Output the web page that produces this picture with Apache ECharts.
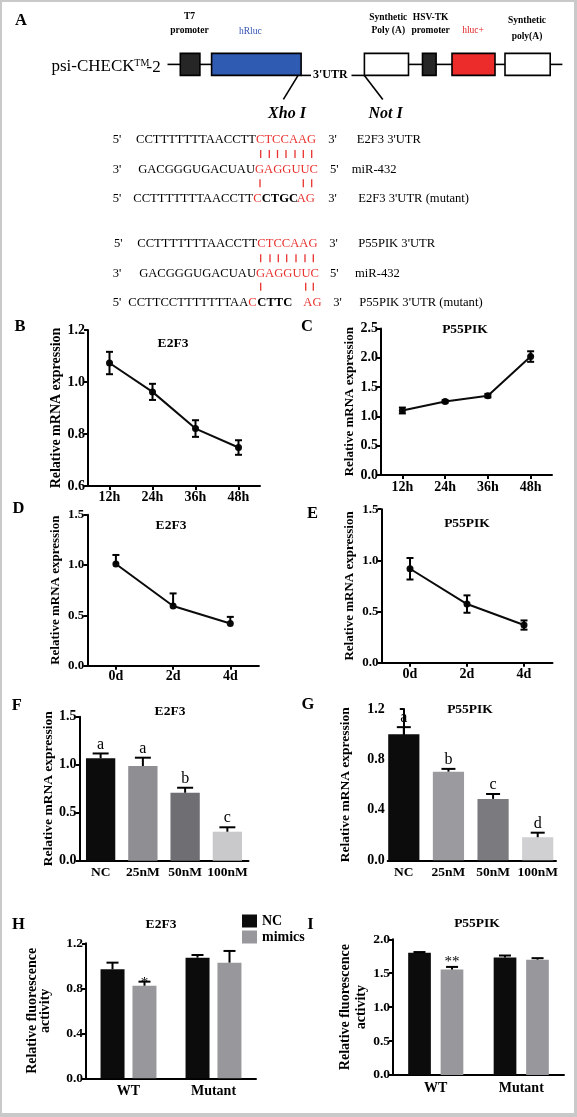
<!DOCTYPE html>
<html><head><meta charset="utf-8">
<script src="https://cdn.jsdelivr.net/npm/echarts@6/dist/echarts.min.js"></script>
<style>html,body{margin:0;padding:0;background:#fff;} #c{width:577px;height:1117px;}</style>
</head><body><div id="c"></div><script>
// ---------------- data ----------------
const timeCats = ['12h','24h','36h','48h'];
const dayCats = ['0d','2d','4d'];
const doseCats = ['NC','25nM','50nM','100nM'];
const reporterCats = ['WT','Mutant'];
const groupNames = ['NC','mimics'];

const bTicks = [0.6,0.8,1.0,1.2];
const bE2F3 = [1.073,0.962,0.821,0.748];
const bE2F3Err = [0.043,0.031,0.032,0.028];

const cTicks = [0,0.5,1.0,1.5,2.0,2.5];
const cP55 = [1.10,1.255,1.353,2.02];
const cP55Err = [0.05,0.02,0.03,0.09];

const dTicks = [0,0.5,1.0,1.5];
const dE2F3 = [1.01,0.593,0.42];
const dE2F3Err = [0.09,0.125,0.065];

const eTicks = [0,0.5,1.0,1.5];
const eP55 = [0.918,0.573,0.368];
const eP55Err = [0.105,0.085,0.045];

const fTicks = [0,0.5,1.0,1.5];
const fE2F3 = [1.067,0.986,0.708,0.302];
const fE2F3Err = [0.05,0.087,0.052,0.046];
const fLetters = ['a','a','b','c'];

const gTicks = [0,0.4,0.8,1.2];
const gP55 = [1.0,0.703,0.487,0.183];
const gP55Err = [0.056,0.022,0.039,0.036];
const gLetters = ['a','b','c','d'];

const hTicks = [0,0.4,0.8,1.2];
const hNC = [0.969,1.072];
const hNCErr = [0.059,0.024];
const hMimics = [0.823,1.028];
const hMimicsErr = [0.036,0.104];
const hMarks = ['*',''];

const iTicks = [0,0.5,1.0,1.5,2.0];
const iNC = [1.80,1.731];
const iNCErr = [0.012,0.03];
const iMimics = [1.554,1.70];
const iMimicsErr = [0.039,0.022];
const iMarks = ['**',''];

// sequences (panel A)
const seqRows = [
  {p5:"5'", black:'CCTTTTTTTAACCTT', parts:[['CTCCAAG','r']], p3:"3'", gene:"E2F3 3'UTR"},
  {p5:"3'", black:'GACGGGUGACUAU', parts:[['GAGGUUC','r']], p3:"5'", gene:'miR-432'},
  {p5:"5'", black:'CCTTTTTTTAACCTT', parts:[['C','r'],['CTGC','b'],['AG','r']], p3:"3'", gene:"E2F3 3'UTR (mutant)"},
  {p5:"5'", black:'CCTTTTTTTAACCTT', parts:[['CTCCAAG','r']], p3:"3'", gene:"P55PIK 3'UTR"},
  {p5:"3'", black:'GACGGGUGACUAU', parts:[['GAGGUUC','r']], p3:"5'", gene:'miR-432'},
  {p5:"5'", black:'CCTTCCTTTTTTTAA', parts:[['C','r'],['CTTC','b'],['AG','r']], p3:"3'", gene:"P55PIK 3'UTR (mutant)"}
];

// ---------------- layout / style ----------------
const SERIF = '"Liberation Serif","Times New Roman",serif';
const BLACK = '#0b0b0b';
const fColors = ['#0c0c0c','#8e8e93','#6e6e73','#c9c9cb'];
const gColors = ['#0c0c0c','#9a9a9f','#7a7a7f','#d0d0d2'];
const groupColors = ['#0c0c0c','#98989c'];

const seqLayout = [
  {y:139.3, x5:112.7, xs:[256], x3:328.3, xg:356.7},
  {y:169.3, x5:112.7, xs:[255], x3:330, xg:351.7},
  {y:199,   x5:112.7, xs:[253.3,261.7,296.7], x3:328.3, xg:358.3},
  {y:243.3, x5:114,   xs:[257.3], x3:329.3, xg:358.3},
  {y:274,   x5:112.7, xs:[256], x3:330, xg:355},
  {y:302.3, x5:112.7, xs:[248.3,257.3,303.3], x3:333.3, xg:359.3}
];
const pairBars = [
  {y:154,   xs:[260.7,269.3,277.5,286,295,303.3,311.7]},
  {y:183.3, xs:[260,303.3,311.7]},
  {y:258.3, xs:[260.7,270,278.3,286.7,296,305,313.3]},
  {y:286.7, xs:[260.7,305.7,313.3]}
];

const grids = [
  {left:88,    top:330,   width:172,   height:156},   // B
  {left:381,   top:328.4, width:171,   height:146.6}, // C
  {left:87.3,  top:514.7, width:171.6, height:151},   // D
  {left:381.5, top:509.2, width:171,   height:153.5}, // E
  {left:79.5,  top:716.7, width:169,   height:144},   // F
  {left:387.7, top:709,   width:168.3, height:151.3}, // G
  {left:86,    top:943.3, width:170,   height:135},   // H
  {left:393,   top:939.3, width:171,   height:135.7}  // I
];

function yAx(gi, ticks, name, o){
  return {type:'value', gridIndex:gi, min:ticks[0], max:ticks[ticks.length-1],
    interval: Math.round((ticks[1]-ticks[0])*1000)/1000,
    name:name, nameLocation:'middle', nameGap:o.nameGap,
    nameTextStyle:{fontFamily:SERIF, fontWeight:'bold', fontSize:o.nameSize, color:'#000', lineHeight:o.lh||o.nameSize},
    axisLine:{show:true, lineStyle:{color:'#000', width:2}},
    axisTick:{show:true, length:4, lineStyle:{color:'#000', width:2}},
    axisLabel:{fontFamily:SERIF, fontWeight:'bold', fontSize:o.labSize, color:'#000', margin:3,
      formatter:function(v){return v.toFixed(1);}},
    splitLine:{show:false}};
}
function xCat(gi, cats, o){
  return {type:'category', gridIndex:gi, data:cats, boundaryGap:true,
    axisLine:{onZero:false, lineStyle:{color:'#000', width:2}},
    axisTick:{show:o.tick, alignWithLabel:true, length:4, lineStyle:{color:'#000', width:2}},
    axisLabel:{interval:0, hideOverlap:false, fontFamily:SERIF, fontWeight:'bold', fontSize:o.size||14, color:'#000', margin:o.margin},
    splitLine:{show:false}};
}

function errSeries(ai, vals, errs, o){
  const data = vals.map(function(v,i){return [i, v, errs[i]];});
  return {type:'custom', xAxisIndex:ai, yAxisIndex:ai, z:6, silent:true, data:data,
    encode:{x:0, y:1},
    renderItem:function(params, api){
      const d = data[params.dataIndex];
      const p = api.coord([d[0], d[1]]);
      const pt = api.coord([d[0], d[1]+d[2]]);
      const pb = api.coord([d[0], d[1]-d[2]]);
      const cx = p[0] + (o.offset||0);
      const st = {stroke:'#000', lineWidth:2};
      const ch = [];
      ch.push({type:'line', shape:{x1:cx, y1:pt[1], x2:cx, y2:(o.both?pb[1]:p[1])}, style:st});
      ch.push({type:'line', shape:{x1:cx-o.cap, y1:pt[1], x2:cx+o.cap, y2:pt[1]}, style:st});
      if (o.both) ch.push({type:'line', shape:{x1:cx-o.cap, y1:pb[1], x2:cx+o.cap, y2:pb[1]}, style:st});
      const lab = o.labels ? o.labels[params.dataIndex] : '';
      if (lab) ch.push({type:'text', x:cx, y:pt[1]+o.labDy,
        style:{text:lab, fill:'#000', fontFamily:SERIF, fontSize:o.labSize, align:'center', verticalAlign:o.labVA}});
      return {type:'group', children:ch};
    }};
}
function lineSeries(ai, vals){
  return {type:'line', xAxisIndex:ai, yAxisIndex:ai, data:vals, z:4,
    symbol:'circle', symbolSize:7, showSymbol:true,
    lineStyle:{color:BLACK, width:2}, itemStyle:{color:BLACK}};
}

// ---------------- graphic (panel A, titles, panel letters) ----------------
const G = [];
function txt(t, x, y, size, opt){
  opt = opt||{};
  G.push({type:'text', x:x, y:y, z:10, style:{text:t, fill:opt.fill||'#000', fontFamily:SERIF,
    fontSize:size, fontWeight:opt.weight||'normal', fontStyle:opt.style||'normal',
    align:opt.align||'center', verticalAlign:opt.va||'middle'}});
}
function ln(x1,y1,x2,y2,c,w){ G.push({type:'line', z:10, shape:{x1:x1,y1:y1,x2:x2,y2:y2}, style:{stroke:c||'#000', lineWidth:w||1.6}}); }
function box(x1,x2,fill){ G.push({type:'rect', z:10, shape:{x:x1,y:53.4,width:x2-x1,height:22}, style:{fill:fill, stroke:'#000', lineWidth:1.6}}); }

// frame
G.push({type:'rect', z:0, shape:{x:0,y:0,width:577,height:2}, style:{fill:'#c9c9c9'}});
G.push({type:'rect', z:0, shape:{x:0,y:0,width:2,height:1117}, style:{fill:'#c9c9c9'}});
G.push({type:'rect', z:0, shape:{x:574,y:0,width:3,height:1117}, style:{fill:'#c9c9c9'}});
G.push({type:'rect', z:0, shape:{x:0,y:1113,width:577,height:4}, style:{fill:'#c9c9c9'}});

// plasmid map
const BY = 64.4, UY = 75.4;
[[167.5,180.3],[199.9,211.6],[408.5,422.5],[436.1,452],[495,505],[550.2,562.4]].forEach(function(s){ln(s[0],BY,s[1],BY);});
ln(301.1,UY,311,UY); ln(351.5,UY,364.4,UY);
box(180.3,199.9,'#262626');
box(211.6,301.1,'#2f5bb3');
box(364.4,408.5,'#ffffff');
box(422.5,436.1,'#262626');
box(452,495,'#ec2b2b');
box(505,550.2,'#ffffff');
ln(298.1,UY,283.4,99.4); ln(364.4,UY,382.8,99.4);
txt("3'UTR",330.3,UY,12,{weight:'bold'});
txt('Xho I',287,114,16,{weight:'bold',style:'italic'});
txt('Not I',385.6,114,16,{weight:'bold',style:'italic'});
txt('psi-CHECK',51.5,67,17,{align:'left'});
txt('TM',134.3,63.5,10,{align:'left'});
txt('-2',146.5,67.5,17,{align:'left'});
[['T7',189.5,16.6],['promoter',189.5,30.2],['Synthetic',388.3,17.7],['Poly (A)',388.3,30.2],
 ['HSV-TK',430.6,17.7],['promoter',430.6,30.2],['Synthetic',527,20.2],['poly(A)',527,36.8]]
 .forEach(function(a){txt(a[0],a[1],a[2],9.5,{weight:'bold'});});
txt('hRluc',250.3,31.3,9.5,{fill:'#2f4fb0'});
txt('hluc+',473,30.9,9.5,{fill:'#e02020'});

// sequences
const SEQ = 12.6, RED = '#e8322f';
seqRows.forEach(function(r, i){
  const L = seqLayout[i];
  txt(r.p5, L.x5, L.y, SEQ, {align:'left'});
  txt(r.black, L.xs[0], L.y, SEQ, {align:'right'});
  r.parts.forEach(function(p, j){
    txt(p[0], L.xs[j], L.y, SEQ, {align:'left', fill:(p[1]==='r'?RED:'#000'), weight:(p[1]==='b'?'bold':'normal')});
  });
  txt(r.p3, L.x3, L.y, SEQ, {align:'left'});
  txt(r.gene, L.xg, L.y, SEQ, {align:'left'});
});
pairBars.forEach(function(b){ b.xs.forEach(function(x){ ln(x,b.y-4,x,b.y+4,RED,1.3); }); });

// panel letters
[['A',21,21],['B',20,327],['C',307,327],['D',18.4,509],['E',312.5,514],['F',16.7,706],['G',308,705],['H',18.3,925],['I',310.5,925]]
 .forEach(function(a){txt(a[0],a[1],a[2],16.5,{weight:'bold'});});
// chart titles
[['E2F3',173,343.7],['P55PIK',465,330],['E2F3',171,525.7],['P55PIK',467,524],
 ['E2F3',170,711.7],['P55PIK',470,710],['E2F3',161,925],['P55PIK',477,923.3]]
 .forEach(function(a){txt(a[0],a[1],a[2],13.5,{weight:'bold'});});

// ---------------- option ----------------
const mRNA = 'Relative mRNA expression';
const fluo = 'Relative fluorescence\nactivity';
const option = {
  animation:false,
  grid:grids,
  legend:{data:groupNames, orient:'vertical', left:237, top:909, itemWidth:15, itemHeight:13, itemGap:2,
    icon:'rect', textStyle:{fontFamily:SERIF, fontWeight:'bold', fontSize:14, color:'#000'}, selectedMode:false},
  xAxis:[
    xCat(0, timeCats, {tick:true, margin:4}),
    xCat(1, timeCats, {tick:true, margin:5}),
    xCat(2, dayCats, {tick:true, margin:4}),
    xCat(3, dayCats, {tick:true, margin:5}),
    xCat(4, doseCats, {tick:false, margin:5, size:13.5}),
    {type:'value', gridIndex:5, min:-0.361, max:3.41,
      axisLine:{onZero:false, lineStyle:{color:'#000', width:2}}, axisTick:{show:false}, splitLine:{show:false},
      axisLabel:{customValues:[0,1,2,3], fontFamily:SERIF, fontWeight:'bold', fontSize:13.5, color:'#000', margin:5,
        formatter:function(v){return doseCats[Math.round(v)];}}},
    xCat(6, reporterCats, {tick:false, margin:6}),
    xCat(7, reporterCats, {tick:false, margin:6})
  ],
  yAxis:[
    yAx(0, bTicks, mRNA, {nameGap:23, nameSize:14, labSize:14}),
    yAx(1, cTicks, mRNA, {nameGap:24, nameSize:13, labSize:14}),
    yAx(2, dTicks, mRNA, {nameGap:25, nameSize:13, labSize:13}),
    yAx(3, eTicks, mRNA, {nameGap:25, nameSize:13, labSize:13}),
    yAx(4, fTicks, mRNA, {nameGap:23, nameSize:13.5, labSize:14}),
    yAx(5, gTicks, mRNA, {nameGap:35, nameSize:13.5, labSize:14}),
    yAx(6, hTicks, fluo, {nameGap:34, nameSize:14, labSize:13.5, lh:13}),
    yAx(7, iTicks, fluo, {nameGap:24, nameSize:14, labSize:13.5, lh:16})
  ],
  series:[
    lineSeries(0, bE2F3), errSeries(0, bE2F3, bE2F3Err, {both:true, cap:3.5}),
    lineSeries(1, cP55), errSeries(1, cP55, cP55Err, {both:true, cap:3.5}),
    lineSeries(2, dE2F3), errSeries(2, dE2F3, dE2F3Err, {both:false, cap:3.5}),
    lineSeries(3, eP55), errSeries(3, eP55, eP55Err, {both:true, cap:3.5}),
    {type:'bar', xAxisIndex:4, yAxisIndex:4, barWidth:29.3, z:3,
      data:fE2F3.map(function(v,i){return {value:v, itemStyle:{color:fColors[i]}};})},
    errSeries(4, fE2F3, fE2F3Err, {both:false, cap:8, labels:fLetters, labDy:-1, labVA:'bottom', labSize:16}),
    {type:'bar', xAxisIndex:5, yAxisIndex:5, barWidth:31.2, z:3,
      data:gP55.map(function(v,i){return {value:[i, v], itemStyle:{color:gColors[i]}};})},
    errSeries(5, gP55, gP55Err, {both:false, cap:7, labels:gLetters, labDy:-1, labVA:'bottom', labSize:16}),
    {type:'bar', name:groupNames[0], xAxisIndex:6, yAxisIndex:6, barWidth:24, barGap:'33%', z:3, data:hNC, itemStyle:{color:groupColors[0]}},
    {type:'bar', name:groupNames[1], xAxisIndex:6, yAxisIndex:6, barWidth:24, barGap:'33%', z:3, data:hMimics, itemStyle:{color:groupColors[1]}},
    errSeries(6, hNC, hNCErr, {both:false, cap:6, offset:-16}),
    errSeries(6, hMimics, hMimicsErr, {both:false, cap:6, offset:16, labels:hMarks, labDy:1, labVA:'middle', labSize:15}),
    {type:'bar', name:groupNames[0], xAxisIndex:7, yAxisIndex:7, barWidth:22.7, barGap:'43%', z:3, data:iNC, itemStyle:{color:groupColors[0]}},
    {type:'bar', name:groupNames[1], xAxisIndex:7, yAxisIndex:7, barWidth:22.7, barGap:'43%', z:3, data:iMimics, itemStyle:{color:groupColors[1]}},
    errSeries(7, iNC, iNCErr, {both:false, cap:6, offset:-16.3}),
    errSeries(7, iMimics, iMimicsErr, {both:false, cap:6, offset:16.3, labels:iMarks, labDy:-5, labVA:'middle', labSize:15})
  ],
  graphic:{elements:G}
};
const chart = echarts.init(document.getElementById('c'), null, {renderer:'canvas'});
chart.setOption(option);
</script></body></html>
